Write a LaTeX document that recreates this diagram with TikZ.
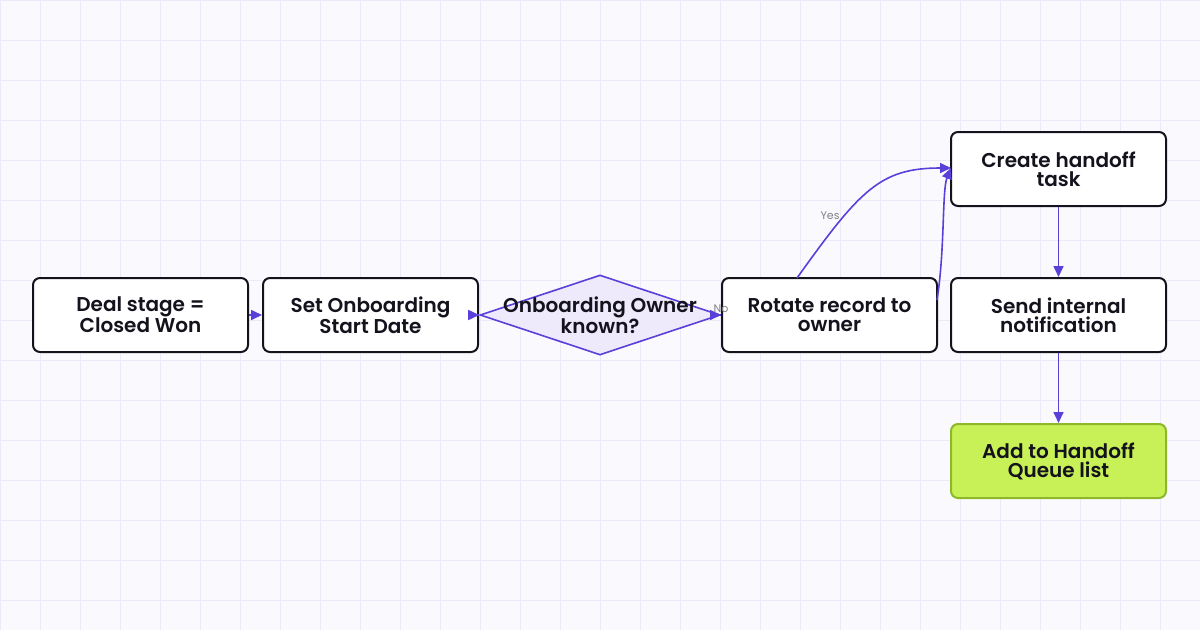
\documentclass[tikz,border=0pt]{standalone}
\usepackage{fontspec}
\setmainfont{Poppins}[BoldFont=* SemiBold]
\usetikzlibrary{shapes.geometric,arrows.meta}
\definecolor{bg}{HTML}{FAFAFE}
\definecolor{gridc}{HTML}{ECEAF8}
\definecolor{edge}{HTML}{5B3FD9}
\definecolor{ink}{HTML}{14121C}
\definecolor{dfill}{HTML}{EEEAFC}
\definecolor{gfill}{HTML}{C8F158}
\definecolor{gline}{HTML}{8DB82A}
\begin{document}
\begin{tikzpicture}[x=1pt,y=-1pt,
  box/.style={draw=ink,line width=2pt,rounded corners=7pt,fill=white,minimum width=215pt,minimum height=74pt,align=center,font=\fontsize{20}{19}\selectfont\bfseries,text=ink,inner sep=2pt},
  arr/.style={draw=edge,line width=1.6pt,-{Triangle[length=11pt,width=10pt]}},
  lbl/.style={font=\fontsize{11}{11}\selectfont,text=gray}]
\useasboundingbox (0,0) rectangle (1200,630);
\fill[bg] (0,0) rectangle (1200,630);
\foreach \x in {0,40,...,1200} \draw[gridc,line width=1pt] (\x,0) -- (\x,630);
\foreach \y in {0,40,...,600} \draw[gridc,line width=1pt] (0,\y) -- (1200,\y);
\node[box] (a) at (140.5,315) {Deal stage =\\Closed Won};
\node[box] (b) at (370.5,315) {Set Onboarding\\Start Date};
\node[diamond,draw=edge,fill=dfill,line width=1.6pt,minimum width=240pt,minimum height=80pt,inner sep=0pt,aspect=3] (c) at (600,315) {};
\node[box] (d) at (829.5,315) {Rotate record to\\owner};
\node[box] (e) at (1058.5,169) {Create handoff\\task};
\node[box] (f) at (1058.5,315) {Send internal\\notification};
\node[box,fill=gfill,draw=gline] (g) at (1058.5,461) {Add to Handoff\\Queue list};
\draw[arr] (a) -- (b);
\draw[arr] (b) -- (c.west);
\draw[arr] (c.east) -- node[lbl,pos=0.9,above=-2pt]{No} (d);
\node[align=center,font=\fontsize{20}{19}\selectfont\bfseries,text=ink] at (c) {Onboarding Owner\\known?};
\draw[arr] (797,278) .. controls (860,190) and (880,168) .. (951,168) node[lbl,pos=0.3,left=1pt]{Yes};
\draw[arr] (937,300) .. controls (945,250) and (942,190) .. (951,168);
\draw[arr] (e) -- (f);
\draw[arr] (f) -- (g);
\end{tikzpicture}
\end{document}
